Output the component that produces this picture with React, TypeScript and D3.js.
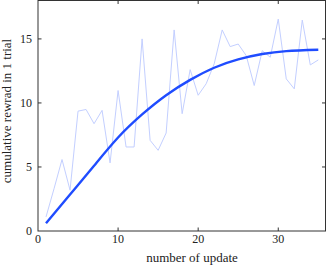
import React, { useEffect, useRef } from 'react';
import * as d3 from 'd3';

// raw reward per update (light line)
const updates = [1, 2, 3, 4, 5, 6, 7, 8, 9, 10, 11, 12, 13, 14, 15, 16, 17, 18,
  19, 20, 21, 22, 23, 24, 25, 26, 27, 28, 29, 30, 31, 32, 33, 34, 35];
const rewards = [1.1, 3.3, 5.58, 3.19, 9.36, 9.49, 8.38, 9.42, 5.32, 10.97, 6.56, 6.56,
  15.0, 7.08, 6.3, 7.65, 15.7, 9.16, 12.6, 10.6, 11.5, 13.05, 15.7, 14.4, 14.6, 13.7,
  11.36, 14.08, 13.57, 16.55, 11.88, 11.1, 16.47, 12.97, 13.36];

// fitted trend (thick line)
const fitX = [1, 4, 7, 10, 13, 16, 19, 22, 25, 28, 31, 35];
const fitY = [0.6, 2.85, 5.1, 7.3, 9.1, 10.6, 11.8, 12.75, 13.4, 13.82, 14.05, 14.15];

const xTicks = [0, 10, 20, 30];
const yTicks = [0, 5, 10, 15];

const W = 327, H = 268;
const left = 38, right = 325.5, top = 0.5, bottom = 231;
const font = '"Liberation Serif", "Times New Roman", serif';

const App = () => {
  const ref = useRef(null);

  const x = d3.scaleLinear().domain([0, 35.9]).range([left, right]);
  const y = d3.scaleLinear().domain([0, 18]).range([bottom, top]);

  useEffect(() => {
    const g = d3.select(ref.current);
    g.selectAll('*').remove();

    const raw = d3.line<number>()
      .x((d, i) => x(updates[i]))
      .y(d => y(d));

    const fit = d3.line<number>()
      .x((d, i) => x(fitX[i]))
      .y(d => y(d))
      .curve(d3.curveNatural);

    g.append('path')
      .attr('d', raw(rewards))
      .attr('fill', 'none')
      .attr('stroke', '#c3cfff')
      .attr('stroke-width', 1);

    g.append('path')
      .attr('d', fit(fitY))
      .attr('fill', 'none')
      .attr('stroke', '#1f4cff')
      .attr('stroke-width', 2.4);

    // frame
    g.append('rect')
      .attr('x', left).attr('y', top)
      .attr('width', right - left).attr('height', bottom - top)
      .attr('fill', 'none').attr('stroke', '#333').attr('stroke-width', 1);

    // inward ticks on all sides
    xTicks.filter(t => t > 0).forEach(t => {
      g.append('line').attr('x1', x(t)).attr('x2', x(t)).attr('y1', bottom).attr('y2', bottom - 3.5)
        .attr('stroke', '#333');
      g.append('line').attr('x1', x(t)).attr('x2', x(t)).attr('y1', top).attr('y2', top + 3.5)
        .attr('stroke', '#333');
    });
    yTicks.filter(t => t > 0).forEach(t => {
      g.append('line').attr('x1', left).attr('x2', left + 3.5).attr('y1', y(t)).attr('y2', y(t))
        .attr('stroke', '#333');
      g.append('line').attr('x1', right).attr('x2', right - 3.5).attr('y1', y(t)).attr('y2', y(t))
        .attr('stroke', '#333');
    });

    g.selectAll('text.xt').data(xTicks).enter().append('text')
      .attr('class', 'xt')
      .attr('x', d => x(d)).attr('y', 243)
      .attr('text-anchor', 'middle')
      .attr('font-size', 12).attr('font-family', font).attr('fill', '#222')
      .text(d => d);

    g.selectAll('text.yt').data(yTicks).enter().append('text')
      .attr('class', 'yt')
      .attr('x', 32).attr('y', d => y(d) + 4)
      .attr('text-anchor', 'end')
      .attr('font-size', 12).attr('font-family', font).attr('fill', '#222')
      .text(d => d);

    g.append('text')
      .attr('x', 192).attr('y', 262)
      .attr('text-anchor', 'middle')
      .attr('font-size', 13).attr('font-family', font).attr('fill', '#222')
      .text('number of update');

    g.append('text')
      .attr('transform', `translate(11 ${111}) rotate(-90)`)
      .attr('text-anchor', 'middle')
      .attr('font-size', 13).attr('font-family', font).attr('fill', '#222')
      .text('cumulative rewrad in 1 trial');
  }, []);

  return (
    <svg width={W} height={H} style={{ position: 'fixed', left: 0, top: 0, background: '#fff' }}>
      <g ref={ref} />
    </svg>
  );
};

export default App;
